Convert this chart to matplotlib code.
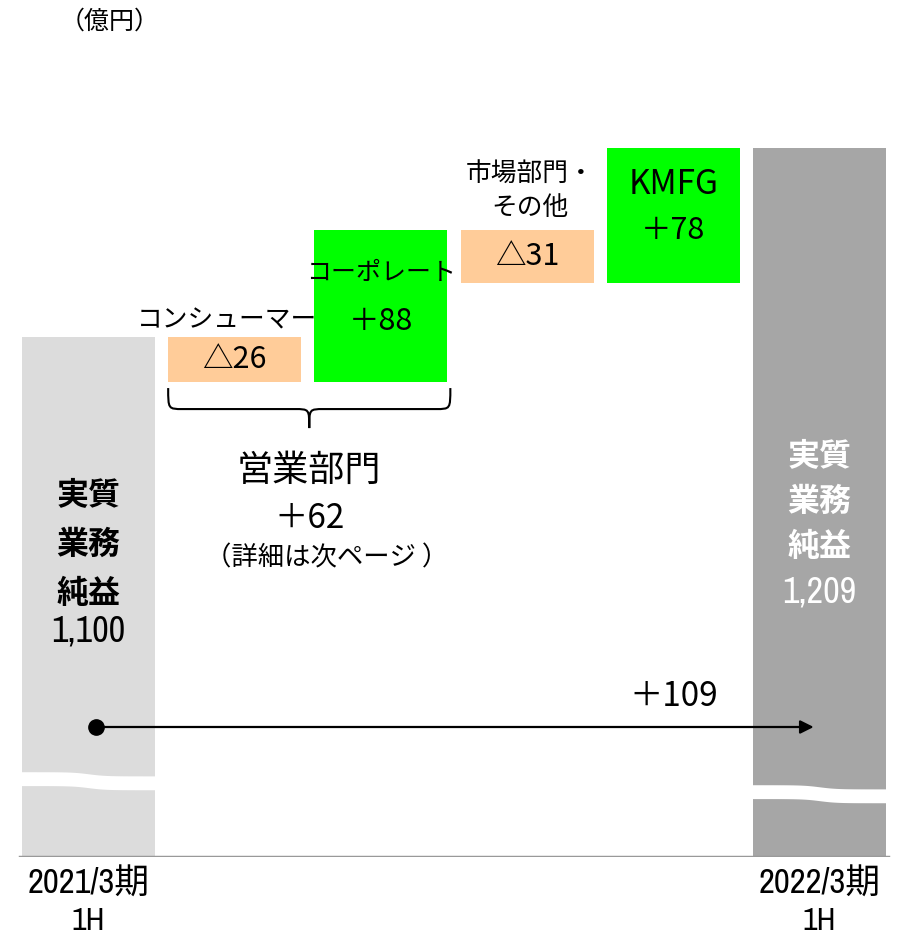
import numpy as np
import matplotlib
matplotlib.use("Agg")
import matplotlib.pyplot as plt
from matplotlib.path import Path
from matplotlib.patches import PathPatch

# ---- data ----
periods = ["2021/3期\n1H", "2022/3期\n1H"]
start_value = 1100
end_value = 1209
step_names = ["コンシューマー", "コーポレート", "市場部門・\nその他", "KMFG"]
step_deltas = [-26, 88, -31, 78]
step_labels = ["△26", "＋88", "△31", "＋78"]
segment_name = "営業部門"
segment_label = "＋62"
total_change_label = "＋109"
axis_floor = 800

JP = ["Noto Sans CJK JP", "DejaVu Sans"]
NUM = ["Archivo Narrow", "Noto Sans CJK JP", "DejaVu Sans"]

c_start = "#DCDCDC"
c_end = "#A6A6A6"
c_neg = "#FFCC99"
c_pos = "#00FF00"

fig = plt.figure(figsize=(9, 9.39), dpi=100)
ax = fig.add_axes([0, (939 - 857) / 939, 1, 857 / 939])
ax.set_axis_off()
ppu = 520 / 300.0  # pixels per unit
ax.set_ylim(axis_floor, axis_floor + 857 / ppu)
ax.set_xlim(-88.5 / 146.2, (900 - 88.5) / 146.2)

w = 0.91
xs = np.arange(6)

# start bar
ax.bar(xs[0], start_value - axis_floor, bottom=axis_floor, width=w, color=c_start, zorder=2)
# steps
level = start_value
tops = []
for i, d in enumerate(step_deltas):
    lo, hi = min(level, level + d), max(level, level + d)
    ax.bar(xs[i + 1], hi - lo, bottom=lo, width=w, color=c_pos if d > 0 else c_neg, zorder=2)
    tops.append((lo, hi))
    level += d
# end bar
ax.bar(xs[5], end_value - axis_floor, bottom=axis_floor, width=w, color=c_end, zorder=2)

# break marks (white wavy bands)
def brk(xc, ymid, gap=8.0, amp=1.2):
    xx = np.linspace(xc - w / 2 - 0.02, xc + w / 2 + 0.02, 100)
    t = (xx - (xc - w / 2)) / w
    wave = -amp * np.tanh((t - 0.5) * 8)
    ax.fill_between(xx, ymid + wave - gap / 2, ymid + wave + gap / 2, color="white", zorder=3, lw=0)

brk(xs[0], 844.0)
brk(xs[5], 836.5)

# baseline
ax.axhline(axis_floor, xmin=20 / 900, xmax=888 / 900, color="#999999", lw=2.5, zorder=4)

# bar labels
lbl_kw = dict(ha="center", va="center", fontsize=23, fontweight="bold", family=JP)
for i, s in enumerate(["実質", "業務", "純益"]):
    ax.text(xs[0], start_value - (496 - 337 + i * 49) / ppu, s, color="black", **lbl_kw)
ax.text(xs[0], start_value - (631 - 337) / ppu, f"{start_value:,}", color="black", ha="center",
        va="center", fontsize=26, family=NUM)
for i, s in enumerate(["実質", "業務", "純益"]):
    ax.text(xs[5], end_value - (456 - 147 + i * 45) / ppu, s, color="white", **lbl_kw)
ax.text(xs[5], end_value - (591 - 147) / ppu, f"{end_value:,}", color="white", ha="center",
        va="center", fontsize=26, family=NUM)

# step labels
for i, (lo, hi) in enumerate(tops):
    if i == 1:
        y = hi - (320 - 228) / ppu
    elif i == 3:
        y = hi - (229 - 147) / ppu
    else:
        y = (lo + hi) / 2
    ax.text(xs[i + 1], y, step_labels[i], ha="center", va="center", fontsize=22, family=JP, zorder=5)
ax.text(xs[1] - 0.05, tops[0][1] + 17 / ppu, step_names[0], ha="center", va="center",
        fontsize=18.5, family=JP, zorder=5)
ax.text(xs[2], tops[1][1] - 43 / ppu, step_names[1], ha="center", va="center",
        fontsize=18, family=JP, zorder=5)
ax.text(xs[3] + 0.02, tops[2][1] + 38 / ppu, step_names[2], ha="center", va="center",
        fontsize=18.5, family=JP, zorder=5, linespacing=1.35)
ax.text(xs[4], tops[3][1] - 36 / ppu, step_names[3], ha="center", va="center",
        fontsize=24, family=JP, zorder=5)

# curly brace under consumer & corporate
xl = xs[1] - w / 2 + 0.0
xr = xs[2] + w / 2 + 0.02
xm = (xl + xr) / 2
ytop = tops[0][0] - 6 / ppu
ymid = tops[0][0] - 27 / ppu
ytip = tops[0][0] - 46 / ppu
r = 0.1
verts = [(xl, ytop), (xl, ymid), (xl, ymid), (xl + r, ymid),
         (xm - r, ymid), (xm, ymid), (xm, ymid), (xm, ytip),
         (xm, ymid), (xm, ymid), (xm + r, ymid),
         (xr - r, ymid), (xr, ymid), (xr, ymid), (xr, ytop)]
codes = [Path.MOVETO, Path.CURVE4, Path.CURVE4, Path.CURVE4,
         Path.LINETO, Path.CURVE4, Path.CURVE4, Path.CURVE4,
         Path.CURVE4, Path.CURVE4, Path.CURVE4,
         Path.LINETO, Path.CURVE4, Path.CURVE4, Path.CURVE4]
ax.add_patch(PathPatch(Path(verts, codes), fill=False, lw=1.5, color="black", zorder=5))

ax.text(xm, tops[0][0] - (470 - 381) / ppu, segment_name, ha="center", va="center",
        fontsize=26, family=JP)
ax.text(xm, tops[0][0] - (517 - 381) / ppu, segment_label, ha="center", va="center",
        fontsize=24, family=JP)
ax.text(xm + 0.12, tops[0][0] - (557 - 381) / ppu, "（詳細は次ページ ）", ha="center", va="center",
        fontsize=19, family=JP)

# total change arrow
y_arrow = axis_floor + (857 - 727) / ppu
ax.annotate("", xy=(xs[5] - 0.04, y_arrow), xytext=(xs[0] + 0.05, y_arrow),
            arrowprops=dict(arrowstyle="-|>", color="black", lw=1.6, mutation_scale=20,
                            shrinkA=0, shrinkB=0), zorder=6)
ax.plot([xs[0] + 0.05], [y_arrow], "o", color="black", ms=11, zorder=6)
ax.text(xs[4], y_arrow + 30 / ppu, total_change_label, ha="center", va="center",
        fontsize=24, family=JP)

# x labels
for xi, p in zip([xs[0], xs[5]], periods):
    a, b = p.split("\n")
    ax.text(xi, axis_floor - 27 / ppu, a, ha="center", va="center", fontsize=25, family=NUM, clip_on=False)
    ax.text(xi, axis_floor - 64 / ppu, b, ha="center", va="center", fontsize=23, family=NUM, clip_on=False)

fig.text(110 / 900, 1 - 22 / 939, "（億円）", ha="center", va="center", fontsize=18, family=JP)

fig.savefig("out.png", dpi=100)
